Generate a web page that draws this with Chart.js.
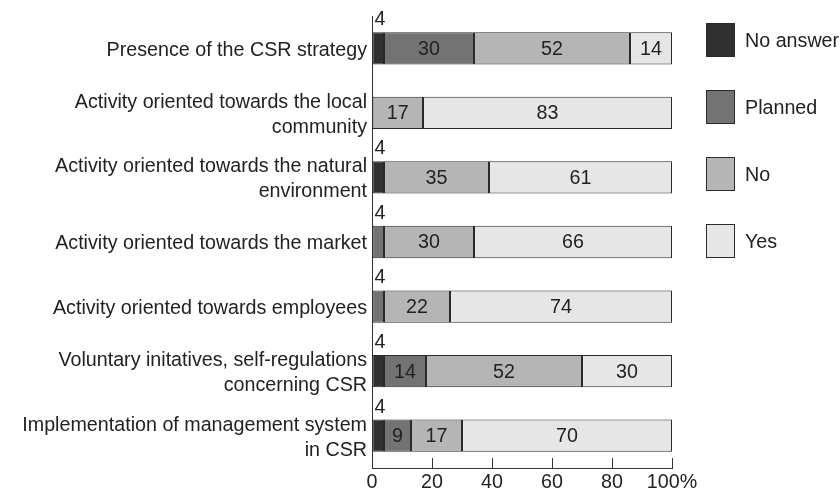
<!DOCTYPE html>
<html>
<head>
<meta charset="utf-8">
<script src="https://cdn.jsdelivr.net/npm/chart.js@4"></script>
<style>
  html, body { margin: 0; padding: 0; background: #fff; }
  #wrap { position: relative; width: 840px; height: 490px; }
  #legend {
    position: absolute; left: 706px; top: 23px;
    font-family: "Liberation Sans", Arial, sans-serif; font-size: 19.7px; color: #222;
  }
  .item { display: flex; align-items: center; height: 34px; margin-bottom: 33px; white-space: nowrap; }
  .box { width: 27px; height: 32px; border: 1px solid #2a2a2a; margin-right: 10px; }
</style>
</head>
<body>
<div id="wrap">
  <canvas id="chart" width="840" height="490"></canvas>
  <div id="legend"></div>
</div>
<script>
/* ── Datos ───────────────────────────────────── */
const categories = [
  "Presence of the CSR strategy",
  ["Activity oriented towards the local", "community"],
  ["Activity oriented towards the natural", "environment"],
  "Activity oriented towards the market",
  "Activity oriented towards employees",
  ["Voluntary initatives, self-regulations", "concerning CSR"],
  ["Implementation of management system", "in CSR"],
];
const seriesNames = ["No answer", "Planned", "No", "Yes"];
const noAnswer = [4, null, 4, null, null, 4, 4];
const planned  = [30, null, null, 4, 4, 14, 9];
const no       = [52, 17, 35, 30, 22, 52, 17];
const yes      = [14, 83, 61, 66, 74, 30, 70];
const xTicks   = [0, 20, 40, 60, 80, 100];

const colors = ["#303030", "#737373", "#b5b5b5", "#e6e6e6"];
const FONT = '"Liberation Sans", Arial, sans-serif';
const FONT_SIZE = 19.7;

/* ── Etiquetas de valores ────────────────────── */
const valueLabels = {
  id: "valueLabels",
  afterDatasetsDraw(chart) {
    const { ctx } = chart;
    ctx.save();
    ctx.font = FONT_SIZE + "px " + FONT;
    ctx.fillStyle = "#222";
    chart.data.datasets.forEach((ds, i) => {
      const meta = chart.getDatasetMeta(i);
      meta.data.forEach((bar, j) => {
        const v = ds.data[j];
        if (v == null) return;
        const { x, base, y, height } = bar.getProps(["x", "base", "y", "height"], true);
        if (v < 5) {
          // los valores chicos van arriba de la barra
          ctx.textAlign = "left";
          ctx.textBaseline = "alphabetic";
          ctx.fillText(v, Math.min(x, base) + 2, y - height / 2 - 7);
        } else {
          ctx.textAlign = "center";
          ctx.textBaseline = "middle";
          ctx.fillText(v, (x + base) / 2, y + 1);
        }
      });
    });
    ctx.restore();
  },
};

const values = [noAnswer, planned, no, yes];
const datasets = seriesNames.map((name, i) => ({
  label: name,
  data: values[i],
  backgroundColor: colors[i],
  borderColor: "#2a2a2a",
  borderWidth: 1,
  borderSkipped: false,
  barPercentage: 0.5,
  categoryPercentage: 1,
}));

const chart = new Chart(document.getElementById("chart"), {
  type: "bar",
  data: { labels: categories, datasets },
  options: {
    indexAxis: "y",
    responsive: false,
    animation: false,
    layout: { padding: { top: 16, right: 168, left: 0, bottom: 0 } },
    scales: {
      x: {
        stacked: true,
        min: 0,
        max: 100,
        afterBuildTicks: (scale) => { scale.ticks = xTicks.map((v) => ({ value: v })); },
        afterFit: (scale) => { scale.height = 22; scale.paddingTop = 0; scale.paddingBottom = 0; },
        grid: { drawOnChartArea: false, tickLength: -10, color: "#333", lineWidth: 1 },
        border: { display: true, color: "#333", width: 1 },
        ticks: {
          color: "#222",
          padding: 13,
          font: { family: FONT, size: FONT_SIZE },
          callback: (v) => (v === 100 ? "100%" : v),
        },
      },
      y: {
        stacked: true,
        afterFit: (scale) => { scale.width = 372; scale.paddingTop = 0; scale.paddingBottom = 0; },
        grid: { display: false, drawTicks: false, tickLength: 0 },
        border: { display: true, color: "#333", width: 1 },
        ticks: {
          color: "#222",
          padding: 5,
          autoSkip: false,
          labelOffset: 2,
          font: { family: FONT, size: FONT_SIZE, lineHeight: 1.27 },
        },
      },
    },
    plugins: {
      legend: { display: false },
      tooltip: { enabled: false },
    },
  },
  plugins: [valueLabels],
});

/* ── Leyenda ─────────────────────────────────── */
document.getElementById("legend").innerHTML = chart.data.datasets
  .map((ds) => `<div class="item"><div class="box" style="background:${ds.backgroundColor}"></div>${ds.label}</div>`)
  .join("");
</script>
</body>
</html>
